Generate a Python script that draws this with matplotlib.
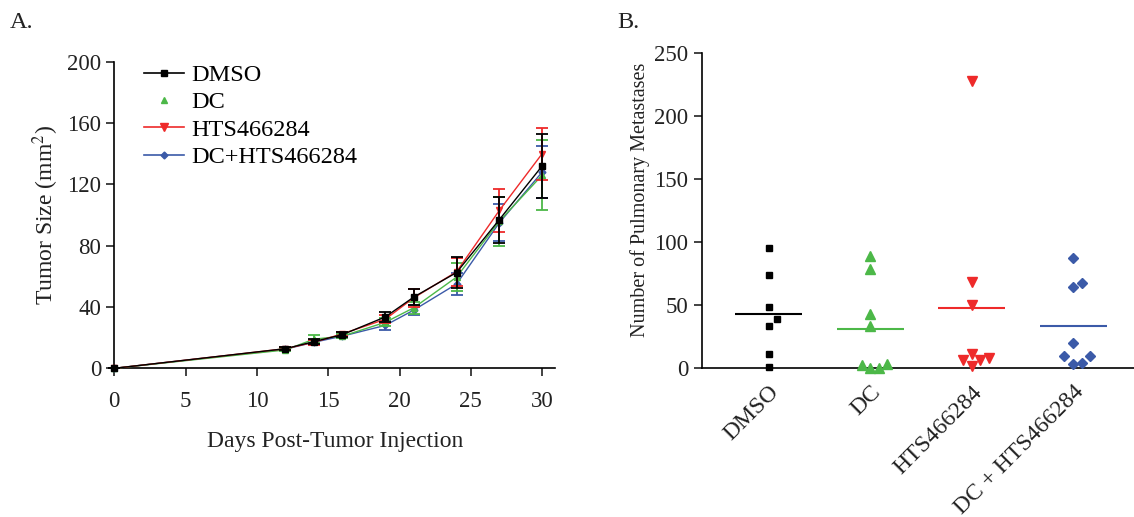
import numpy as np
import matplotlib
matplotlib.use('Agg')
import matplotlib.pyplot as plt
from matplotlib.lines import Line2D
import matplotlib.transforms as mtransforms

plt.rcParams['font.family'] = ['Liberation Serif', 'DejaVu Serif']
plt.rcParams['mathtext.fontset'] = 'stix'

# panel A: tumor growth
days = [0, 12, 14, 16, 19, 21, 24, 27, 30]
dmso = [0, 12.8, 17.4, 22, 33.5, 46.5, 62.5, 97, 132]
dc = [0, 12, 19, 21, 30, 39.5, 59.5, 96, 126]
hts = [0, 12.8, 17, 22.5, 32, 46, 63, 103, 140]
combo = [0, 12.5, 17, 21, 28, 38, 55, 95, 128]
dmso_err = [0, 1, 1.5, 1.5, 3, 5, 10, 15, 21]
dc_err = [0, 1, 2.5, 1.5, 2.5, 4, 9, 16, 23]
hts_err = [0, 1, 1.5, 1.5, 2.5, 6, 9, 14, 17]
combo_err = [0, 1, 1.5, 1.5, 3, 3, 7, 12, 17]

# panel B: metastases per mouse
groups = ['DMSO', 'DC', 'HTS466284', 'DC + HTS466284']
met_dmso = [95, 74, 48.5, 38.5, 33.5, 11, 0.5]
met_dc = [88.5, 78.5, 42.5, 33.5, 2, 0, 0, 3]
met_hts = [228, 68.5, 50, 10.5, 6.5, 6, 7.5, 1.5]
met_combo = [87, 64.5, 67, 20, 9.5, 9.5, 3, 3.5]
jit_dmso = [0, 0, 0, 1, 0, 0, 0]
jit_dc = [0, 0, 0, 0, -1, 0, 1, 2]
jit_hts = [0, 0, 0, 0, -1, 1, 2, 0]
jit_combo = [0, 0, 1, 0, -1, 2, 0, 1]

black = '#000000'
green = '#4cb848'
red = '#ee2a2a'
blue = '#3b5aa8'
txt = '#222222'

fig = plt.figure(figsize=(11.34, 5.17), dpi=100)

ax1 = fig.add_axes([0.1008, 0.2876, 0.3886, 0.593])
series = [
    (combo, combo_err, blue, 'D', 3.5, 2),
    (dc, dc_err, green, '^', 4.5, 3),
    (hts, hts_err, red, 'v', 5, 4),
    (dmso, dmso_err, black, 's', 4.5, 5),
]
for vals, err, col, mk, ms, z in series:
    ax1.errorbar(days, vals, yerr=err, color=col, marker=mk, markersize=ms,
                 lw=1.0, elinewidth=1.3, capsize=4, capthick=1.3,
                 zorder=z, clip_on=False)

ax1.set_xlim(0, 30.9)
ax1.set_ylim(0, 200)
ax1.set_xticks([0, 5, 10, 15, 20, 25, 30])
ax1.set_yticks([0, 40, 80, 120, 160, 200])
ax1.spines['top'].set_visible(False)
ax1.spines['right'].set_visible(False)
for s in ax1.spines.values():
    s.set_linewidth(1.2)
ax1.tick_params(direction='out', length=6, width=1.2, labelsize=16.5, colors=txt)
ax1.tick_params(axis='x', pad=10)
ax1.set_xlabel('Days Post-Tumor Injection', fontsize=17, color=txt, labelpad=14)
ax1.set_ylabel(r'Tumor Size (mm$^{2}$)', fontsize=17, color=txt)

handles = [
    Line2D([], [], color=black, marker='s', markersize=4.5, lw=1.2),
    Line2D([], [], color=green, marker='^', markersize=5, lw=0),
    Line2D([], [], color=red, marker='v', markersize=5.5, lw=1.2),
    Line2D([], [], color=blue, marker='D', markersize=3.5, lw=1.2),
]
ax1.legend(handles, ['DMSO', 'DC', 'HTS466284', 'DC+HTS466284'],
           loc='upper left', bbox_to_anchor=(0.035, 1.04), frameon=False,
           fontsize=17.5, handlelength=1.65, handletextpad=0.3,
           labelspacing=0.22, borderaxespad=0.2)

ax2 = fig.add_axes([0.6188, 0.2888, 0.3812, 0.6081])
met = [met_dmso, met_dc, met_hts, met_combo]
jits = [jit_dmso, jit_dc, jit_hts, jit_combo]
styles = [(black, 's', 5), (green, '^', 6.5), (red, 'v', 6.5), (blue, 'D', 5)]
for i, (vals, jit, (col, mk, ms)) in enumerate(zip(met, jits, styles)):
    xs = [i + 0.085 * j for j in jit]
    ax2.plot(xs, vals, ls='none', marker=mk, color=col, markersize=ms,
             clip_on=False, zorder=3)
    ax2.hlines(np.mean(vals), i - 0.33, i + 0.33, color=col, lw=1.5, zorder=2)

ax2.set_xlim(-0.66, 3.6)
ax2.set_ylim(0, 250)
ax2.set_yticks([0, 50, 100, 150, 200, 250])
ax2.set_xticks(range(len(groups)))
ax2.set_xticklabels(groups, rotation=45, ha='right', va='top',
                    rotation_mode='anchor')
shift = mtransforms.ScaledTranslation(-8 / 100, 0, fig.dpi_scale_trans)
for lab in ax2.get_xticklabels():
    lab.set_transform(lab.get_transform() + shift)
ax2.spines['top'].set_visible(False)
ax2.spines['right'].set_visible(False)
for s in ax2.spines.values():
    s.set_linewidth(1.2)
ax2.tick_params(axis='y', direction='out', length=6, width=1.2, labelsize=16.5,
                colors=txt)
ax2.tick_params(axis='x', length=0, pad=10, labelsize=17, colors=txt)
ax2.set_ylabel('Number of Pulmonary Metastases', fontsize=14.5, color=txt)
ax2.yaxis.set_label_coords(-0.12, 0.535)

fig.text(0.009, 0.945, 'A.', fontsize=17.5, color=txt)
fig.text(0.544, 0.945, 'B.', fontsize=17.5, color=txt)

fig.savefig('out.png', dpi=100)
